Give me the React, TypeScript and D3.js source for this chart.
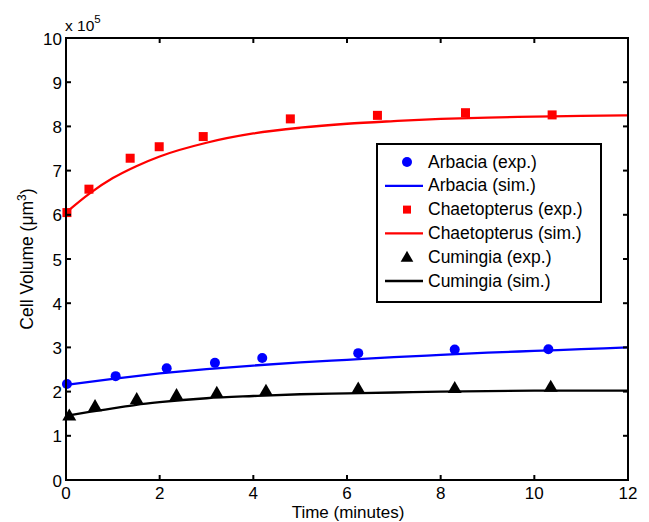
import React from "react";
import * as d3 from "d3";

const arbaciaExpT = [0.02, 1.06, 2.15, 3.18, 4.19, 6.24, 8.3, 10.3];
const arbaciaExpV = [2.17, 2.35, 2.53, 2.65, 2.76, 2.87, 2.95, 2.96];
const arbaciaSimT = [0, 1, 2, 3, 4, 5, 6, 7, 8, 9, 10, 11, 12];
const arbaciaSimV = [2.15, 2.29, 2.41, 2.51, 2.59, 2.66, 2.72, 2.78, 2.83, 2.88, 2.92, 2.96, 3.0];

const chaetExpT = [0.02, 0.49, 1.37, 1.99, 2.93, 4.79, 6.65, 8.53, 10.38];
const chaetExpV = [6.05, 6.58, 7.28, 7.54, 7.77, 8.17, 8.25, 8.31, 8.26];
const chaetSimT = [0, 0.5, 1, 1.5, 2, 3, 4, 5, 6, 7, 8, 9, 10, 11, 12];
const chaetSimV = [6.05, 6.48, 6.83, 7.1, 7.32, 7.63, 7.84, 7.97, 8.06, 8.12, 8.17, 8.2, 8.22, 8.24, 8.25];

const cumExpT = [0.07, 0.62, 1.51, 2.36, 3.22, 4.27, 6.24, 8.3, 10.35];
const cumExpV = [1.46, 1.67, 1.83, 1.92, 1.97, 2.02, 2.07, 2.08, 2.11];
const cumSimT = [0, 0.5, 1, 1.5, 2, 3, 4, 5, 6, 7, 8, 10, 12];
const cumSimV = [1.45, 1.54, 1.62, 1.7, 1.76, 1.85, 1.9, 1.94, 1.96, 1.98, 2.0, 2.02, 2.02];

const xTicks = [0, 2, 4, 6, 8, 10, 12];
const yTicks = [0, 1, 2, 3, 4, 5, 6, 7, 8, 9, 10];
const legendLabels = [
  "Arbacia (exp.)",
  "Arbacia (sim.)",
  "Chaetopterus (exp.)",
  "Chaetopterus (sim.)",
  "Cumingia (exp.)",
  "Cumingia (sim.)",
];

const FONT = "'Liberation Sans', Arial, Helvetica, sans-serif";

export default function App() {
  const W = 649, H = 522;
  const L = 66, R = 628, T = 38, B = 480;
  const x = d3.scaleLinear().domain([0, 12]).range([L, R]);
  const y = d3.scaleLinear().domain([0, 10]).range([B, T]);
  const line = d3
    .line<[number, number]>()
    .x((d) => x(d[0]))
    .y((d) => y(d[1]))
    .curve(d3.curveMonotoneX);
  const zip = (a: number[], b: number[]) => a.map((v, i) => [v, b[i]] as [number, number]);

  const tri = d3.symbol().type(d3.symbolTriangle).size(85)();
  const triLeg = d3.symbol().type(d3.symbolTriangle).size(70)();

  const blue = "#0000ff", red = "#ff0000", black = "#000000";

  const legX = 377, legY = 144, legW = 224, legH = 158;
  const rowY = (i: number) => 162 + i * 23.8;

  return (
    <svg width={W} height={H} style={{ position: "absolute", left: 0, top: 0, background: "#fff" }} fontFamily={FONT}>
      <rect x={0} y={0} width={W} height={H} fill="#fff" />
      {/* lines */}
      <path d={line(zip(arbaciaSimT, arbaciaSimV)) || ""} fill="none" stroke={blue} strokeWidth={2.3} />
      <path d={line(zip(chaetSimT, chaetSimV)) || ""} fill="none" stroke={red} strokeWidth={2.3} />
      <path d={line(zip(cumSimT, cumSimV)) || ""} fill="none" stroke={black} strokeWidth={2.3} />
      {/* markers */}
      {arbaciaExpT.map((t, i) => (
        <circle key={"a" + i} cx={x(t)} cy={y(arbaciaExpV[i])} r={5} fill={blue} />
      ))}
      {chaetExpT.map((t, i) => (
        <rect key={"c" + i} x={x(t) - 4.5} y={y(chaetExpV[i]) - 4.5} width={9} height={9} fill={red} />
      ))}
      {cumExpT.map((t, i) => (
        <path key={"m" + i} d={tri || ""} transform={`translate(${x(t)},${y(cumExpV[i]) + 1})`} fill={black} />
      ))}
      {/* axes box */}
      <rect x={L} y={T} width={R - L} height={B - T} fill="none" stroke="#000" strokeWidth={2} />
      {xTicks.map((t) => (
        <g key={"xt" + t}>
          <line x1={x(t)} x2={x(t)} y1={B} y2={B - 5} stroke="#000" strokeWidth={2} />
          <line x1={x(t)} x2={x(t)} y1={T} y2={T + 5} stroke="#000" strokeWidth={2} />
          <text x={x(t)} y={499} fontSize={17} textAnchor="middle" fill="#000">{t}</text>
        </g>
      ))}
      {yTicks.map((t) => (
        <g key={"yt" + t}>
          <line x1={L} x2={L + 5} y1={y(t)} y2={y(t)} stroke="#000" strokeWidth={2} />
          <line x1={R} x2={R - 5} y1={y(t)} y2={y(t)} stroke="#000" strokeWidth={2} />
          <text x={L - 4} y={y(t) + 6.5} fontSize={17} textAnchor="end" fill="#000">{t}</text>
        </g>
      ))}
      <text x={L - 1} y={31} fontSize={15.5} fill="#000">
        x 10<tspan dy={-8} fontSize={11.5}>5</tspan>
      </text>
      <text x={(L + R) / 2 + 1} y={518} fontSize={17} textAnchor="middle" fill="#000">Time (minutes)</text>
      <text transform={`translate(33,${(T + B) / 2}) rotate(-90)`} fontSize={17.5} textAnchor="middle" fill="#000">
        Cell Volume (μm<tspan dy={-7} fontSize={12}>3</tspan><tspan dy={7}>)</tspan>
      </text>
      {/* legend */}
      <rect x={legX} y={legY} width={legW} height={legH} fill="#fff" stroke="#000" strokeWidth={2} />
      {legendLabels.map((lab, i) => {
        const cy = rowY(i);
        const color = i < 2 ? blue : i < 4 ? red : black;
        const isLine = i % 2 === 1;
        return (
          <g key={"l" + i}>
            {isLine ? (
              <line x1={385} x2={423} y1={cy} y2={cy} stroke={color} strokeWidth={2.3} />
            ) : i === 0 ? (
              <circle cx={407} cy={cy} r={5} fill={color} />
            ) : i === 2 ? (
              <rect x={403} y={cy - 4} width={8} height={8} fill={color} />
            ) : (
              <path d={triLeg || ""} transform={`translate(407,${cy + 1})`} fill={color} />
            )}
            <text x={428} y={cy + 5.5} fontSize={17.5} fill="#000">{lab}</text>
          </g>
        );
      })}
    </svg>
  );
}
